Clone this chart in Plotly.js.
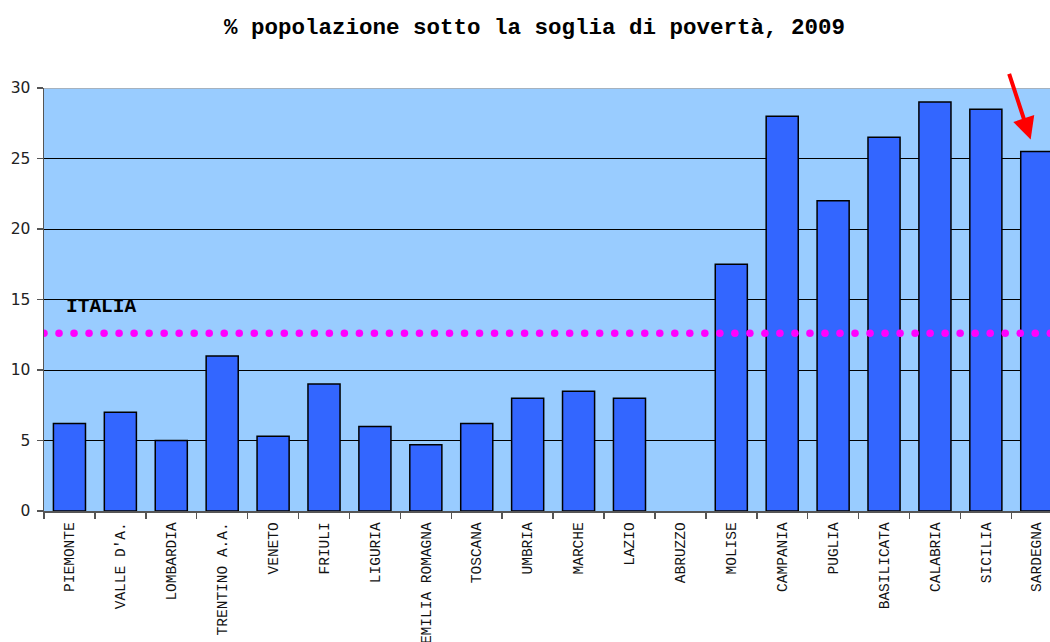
<!DOCTYPE html>
<html>
<head>
<meta charset="utf-8">
<script src="https://cdn.plot.ly/plotly-3.0.1.min.js"></script>
<style>html,body{margin:0;padding:0;background:#fff;}</style>
</head>
<body>
<div id="chart" style="width:1050px;height:642px;"></div>
<script>
const regions = ["PIEMONTE","VALLE D'A.","LOMBARDIA","TRENTINO A.A.","VENETO","FRIULI","LIGURIA","EMILIA ROMAGNA","TOSCANA","UMBRIA","MARCHE","LAZIO","ABRUZZO","MOLISE","CAMPANIA","PUGLIA","BASILICATA","CALABRIA","SICILIA","SARDEGNA"];
const poverty = [6.2, 7.0, 5.0, 11.0, 5.3, 9.0, 6.0, 4.7, 6.2, 8.0, 8.5, 8.0, null, 17.5, 28.0, 22.0, 26.5, 29.0, 28.5, 25.5];
const italia = 12.6;
const italiaLabel = "ITALIA";
const highlighted = "SARDEGNA";
const titleText = "% popolazione sotto la soglia di povertà, 2009";

const idx = regions.map((_, i) => i);
const xMin = -0.5, xMax = 19.26;
const dotStep = 0.295;
const dotX = [];
for (let x = xMin; x <= xMax + 0.2; x += dotStep) dotX.push(x);

const hiIdx = regions.indexOf(highlighted);

const traces = [
  {
    type: 'bar', x: idx, y: poverty, width: 0.63,
    marker: {color: '#3366FF', line: {color: '#000000', width: 1.5}},
    hoverinfo: 'x+y'
  },
  {
    type: 'scatter', mode: 'markers', x: dotX, y: dotX.map(() => italia),
    marker: {color: '#FF00FF', size: 7.5}, cliponaxis: true, hoverinfo: 'skip'
  }
];

const layout = {
  width: 1050, height: 642,
  margin: {l: 44, r: 0, t: 88, b: 131},
  paper_bgcolor: '#FFFFFF',
  plot_bgcolor: '#99CCFF',
  showlegend: false,
  title: {
    text: '<b>' + titleText + '</b>',
    x: 0.509, xref: 'container', xanchor: 'center',
    y: 0.959, yref: 'container', yanchor: 'middle',
    font: {family: '"Liberation Mono", "Courier New", monospace', size: 22.5, color: '#000'}
  },
  xaxis: {
    type: 'linear', range: [xMin, xMax],
    tickmode: 'array', tickvals: idx, ticktext: regions,
    ticks: '', tickangle: -90, ticklabelstandoff: 4,
    tickfont: {family: '"Liberation Mono", "Courier New", monospace', size: 14.5, color: '#111'},
    showgrid: false, zeroline: false,
    showline: true, linecolor: '#555', linewidth: 1.5,
    minor: {tickmode: 'linear', tick0: -0.5, dtick: 1, ticks: 'outside', ticklen: 6, tickcolor: '#555', tickwidth: 1.5, showgrid: false},
    fixedrange: true
  },
  yaxis: {
    range: [0, 30], tickmode: 'linear', tick0: 0, dtick: 5,
    ticks: 'outside', ticklen: 6, tickcolor: '#555', tickwidth: 1.5,
    ticklabelstandoff: 3,
    tickfont: {family: '"DejaVu Sans", Verdana, sans-serif', size: 15.5, color: '#222'},
    showgrid: true, gridcolor: '#000000', gridwidth: 1,
    zeroline: false, showline: true, linecolor: '#555', linewidth: 1.5,
    fixedrange: true
  },
  shapes: [
    {type: 'line', xref: 'paper', yref: 'y', x0: 0, x1: 1, y0: 30, y1: 30, line: {color: '#AAAAAA', width: 1.5}}
  ],
  annotations: [
    {
      xref: 'x', yref: 'y', x: -0.11, y: 14.45, xanchor: 'left', yanchor: 'middle',
      text: '<b>' + italiaLabel + '</b>', showarrow: false,
      font: {family: '"Liberation Mono", "Courier New", monospace', size: 19.5, color: '#000'}
    },
    {
      xref: 'x', yref: 'y', x: hiIdx - 0.12, y: 26.35, text: '',
      showarrow: true, arrowhead: 2, arrowsize: 1.1, arrowwidth: 4, arrowcolor: '#FF0000',
      axref: 'pixel', ayref: 'pixel', ax: -22, ay: -67
    }
  ]
};

Plotly.newPlot('chart', traces, layout, {displayModeBar: false, staticPlot: true});
</script>
</body>
</html>
